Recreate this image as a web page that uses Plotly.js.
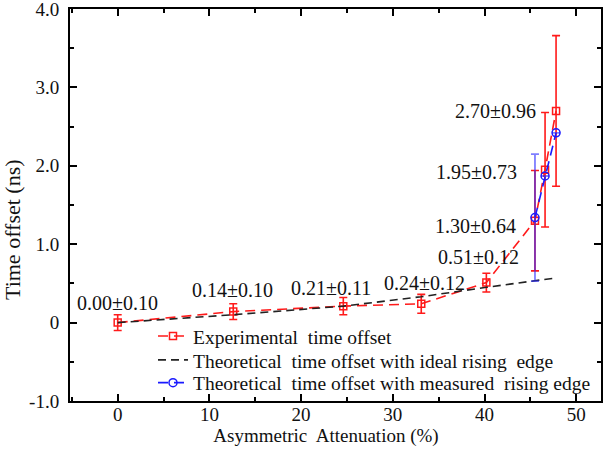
<!DOCTYPE html>
<html>
<head>
<meta charset="utf-8">
<script src="https://cdn.plot.ly/plotly-3.0.1.min.js"></script>
<style>html,body{margin:0;padding:0;background:#fff;}#chart{width:607px;height:459px;}</style>
</head>
<body>
<div id="chart"></div>
<script>
// Experimental data
const attenuation = [0, 12.6, 24.6, 33.1, 40.2, 45.5, 46.6, 47.8];
const expOffset   = [0.00, 0.14, 0.21, 0.24, 0.51, 1.30, 1.95, 2.70];
const expError    = [0.10, 0.10, 0.11, 0.12, 0.12, 0.64, 0.73, 0.96];
// Theoretical, ideal rising edge
const idealOffset = [0.00, 0.10, 0.21, 0.33, 0.45, 0.53, 0.55, 0.57];
// Theoretical, measured rising edge
const measAtten   = [45.5, 46.6, 47.8];
const measOffset  = [1.34, 1.87, 2.42];
const measError   = [0.81, null, null];
// Axis ticks
const yTickVals = [-1, 0, 1, 2, 3, 4];
const yTickText = ['-1.0', '0', '1.0', '2.0', '3.0', '4.0'];
const xTickVals = [0, 10, 20, 30, 40, 50];
// label offsets in pixels (style)
const labelShift = [[0,20],[-1,22],[-12,18],[3,21],[-8,26],[-59,-5],[-69,-2],[-61,0]];

const FONT = '"Liberation Serif", "Times New Roman", Times, serif';
const pad = n => '\u00a0'.repeat(n) + '\u200b';

const traces = [
  {
    x: attenuation, y: expOffset, type: 'scatter', mode: 'lines+markers',
    name: 'Experimental  time offset', legend: 'legend',
    line: {color: '#ff1a1a', width: 1.6, dash: '10px,6px'},
    marker: {symbol: 'square-open', size: 7, color: '#ff1a1a', line: {width: 1.5, color: '#ff1a1a'}},
    error_y: {type: 'data', array: expError, visible: true, color: '#ff1a1a', thickness: 1.6, width: 4}
  },
  {
    x: attenuation, y: idealOffset, type: 'scatter', mode: 'lines',
    name: 'Theoretical  time offset with ideal rising  edge', legend: 'legend2',
    line: {color: '#222222', width: 1.6, dash: '8px,5px'}
  },
  {
    x: measAtten, y: measOffset, type: 'scatter', mode: 'lines+markers',
    name: 'Theoretical  time offset with measured  rising edge', legend: 'legend3',
    line: {color: '#1a1aff', width: 1.6, dash: '10px,6px'},
    marker: {symbol: 'circle-open', size: 8, color: '#1a1aff', line: {width: 1.5, color: '#1a1aff'}},
    error_y: {type: 'data', array: measError, visible: true, color: 'rgba(40,40,255,0.6)', thickness: 1.8, width: 4}
  }
];

const annotations = expOffset.map((v, i) => ({
  x: attenuation[i], y: v, xref: 'x', yref: 'y',
  text: v.toFixed(2) + '±' + expError[i].toFixed(2),
  showarrow: false, xanchor: 'center', yanchor: 'middle',
  xshift: labelShift[i][0], yshift: labelShift[i][1],
  font: {family: FONT, size: 20, color: '#111'}
}));

function legendAt(y) {
  return {
    x: 0.1563, y: y, xanchor: 'left', yanchor: 'middle',
    bgcolor: 'rgba(0,0,0,0)', borderwidth: 0,
    font: {family: FONT, size: 19.5, color: '#111'}
  };
}

const layout = {
  width: 607, height: 459,
  margin: {l: 70, r: 6, t: 9, b: 58},
  paper_bgcolor: '#fff', plot_bgcolor: '#fff',
  font: {family: FONT, size: 19, color: '#111'},
  showlegend: true,
  legend: legendAt(0.165),
  legend2: legendAt(0.104),
  legend3: legendAt(0.046),
  xaxis: {
    range: [-5.2, 52.7], tickvals: xTickVals,
    ticks: 'inside', ticklen: 7, tickwidth: 2, tickcolor: '#000',
    showline: true, linewidth: 2, linecolor: '#000', mirror: 'ticks',
    showgrid: false, zeroline: false,
    minor: {dtick: 5, tick0: 0, ticks: 'inside', ticklen: 4, tickwidth: 2, tickcolor: '#000', showgrid: false},
    tickfont: {family: FONT, size: 19, color: '#111'},
    ticklabelstandoff: -5, ticklabeloverflow: 'allow',
    title: {text: 'Asymmetric  Attenuation (%)' + pad(4), font: {family: FONT, size: 19, color: '#111'}, standoff: 5}
  },
  yaxis: {
    range: [-1, 4], tickvals: yTickVals, ticktext: yTickText,
    ticks: 'inside', ticklen: 7, tickwidth: 2, tickcolor: '#000',
    showline: true, linewidth: 2, linecolor: '#000', mirror: 'ticks',
    showgrid: false, zeroline: false,
    minor: {dtick: 0.5, tick0: 0, ticks: 'inside', ticklen: 4, tickwidth: 2, tickcolor: '#000', showgrid: false},
    tickfont: {family: FONT, size: 19, color: '#111'},
    ticklabelstandoff: 5, ticklabeloverflow: 'allow',
    title: {text: 'Time offset (ns)' + pad(9), font: {family: FONT, size: 22, color: '#111'}, standoff: 6}
  },
  annotations: annotations
};

Plotly.newPlot('chart', traces, layout, {displayModeBar: false, staticPlot: true});
</script>
</body>
</html>
